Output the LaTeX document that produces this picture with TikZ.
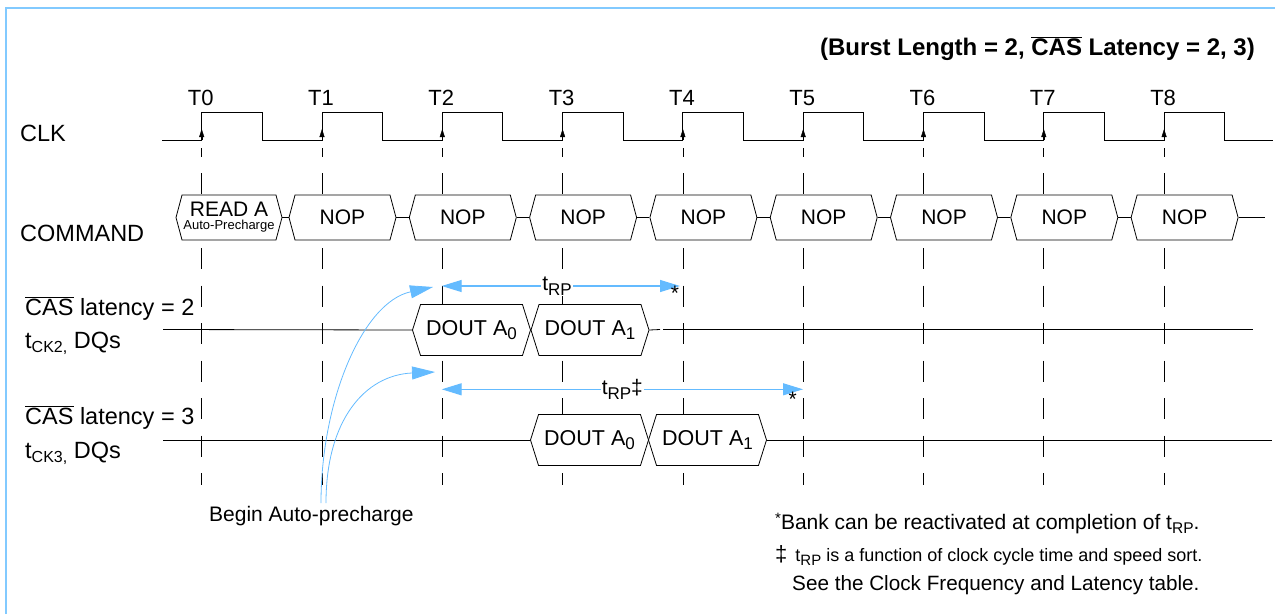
\documentclass[tikz,border=0pt]{standalone}
\usepackage{fontspec}
\setmainfont{Liberation Sans}
\usetikzlibrary{arrows.meta,shapes.symbols}
\definecolor{frameblue}{RGB}{130,202,255}
\definecolor{rpblue}{RGB}{100,187,255}
\newcommand\fsz[1]{\fontsize{#1}{#1}\selectfont}
\newcommand\cas{$\overline{\mbox{CAS}}$}
\newcommand\lowtext[2]{\raisebox{-4.5pt}{\fsz{#1}#2}}

\begin{document}
\begin{tikzpicture}[x=1pt,y=-1pt,
    lbl/.style={anchor=base west,inner sep=0,font=\fsz{23.5}},
    cmd/.style={shape=signal,signal to=east and west,signal pointer angle=150,
      draw,fill=white,line width=0.8pt,minimum width=107pt,minimum height=45pt,
      inner sep=0,font=\fsz{21}},
    dout/.style={cmd,signal pointer angle=145,minimum width=118pt,minimum height=51pt,font=\fsz{21.5}},
    tick/.style={line width=0.8pt,dash pattern=on 21pt off 16.5pt,dash phase=12.5pt},
    wire/.style={line width=0.8pt},
    rp/.style={rpblue,line width=1.2pt,{Triangle[length=20pt,width=12pt]}-{Triangle[length=20pt,width=12pt]}},
    rplbl/.style={fill=white,text=black,inner sep=1pt,font=\fsz{21}},
    apcurve/.style={rpblue,line width=0.8pt,-{Triangle[length=23pt,width=13pt]}},
    note/.style={anchor=base west,inner sep=0,font=\fsz{21}}]
    \useasboundingbox (0,0) rectangle (1275,614);
    \draw[frameblue,line width=2pt] (6,614) -- (6,8) -- (1275,8);
    % title
    \node[anchor=base east,inner sep=0,font=\fsz{24}\bfseries] (ttl) at (1255,55)
      {(Burst Length = 2, \cas{} Latency = 2, 3)};
    % row names
    \node[lbl] (clk) at (20,141) {CLK};
    \node[lbl] (cmdl) at (20,241) {COMMAND};
    \node[lbl] (cl2) at (25,315) {\cas{} latency = 2};
    \node[lbl] (ck2) at (25,348) {t\lowtext{16}{CK2,} DQs};
    \node[lbl] (cl3) at (25,424) {\cas{} latency = 3};
    \node[lbl] (ck3) at (25,458) {t\lowtext{16}{CK3,} DQs};
    % clock
    \draw[line width=1pt] (162,140.3) \foreach \i in {0,...,8}{
      -- ({201.7+120.3*\i},140.3) -- ++(0,-28) -- ++(60.6,0) -- ++(0,28)} -- (1273,140.3);
    \foreach \i in {0,...,8}{
      \pgfmathsetmacro\x{201.7+120.3*\i}
      \node[anchor=base,inner sep=0,font=\fsz{22}] (t\i) at ({\x-1},105) {T\i};
      \coordinate (u\i) at (\x,148);
      \coordinate (d\i) at (\x,485);
      \draw[tick] (u\i) -- (d\i);
      \draw[-{Triangle[length=8pt,width=5pt]}] (\x,140.3) -- (\x,129);
    }
    % data lines
    \coordinate (l2s) at (163,329.5);
    \coordinate (l2g) at (660,329.5);
    \coordinate (l2h) at (663,329.5);
    \coordinate (l2e) at (1253,329.5);
    \coordinate (l3s) at (163,440);
    \coordinate (l3e) at (1272,440);
    \coordinate (cend) at (1265,217.5);
    % commands
    \node[cmd,minimum width=106pt,align=center] (c0) at (229,217.5)
      {READ A\\[-8pt]{\fsz{13}Auto-Precharge}};
    \foreach \i in {1,...,8}
      \node[cmd] (c\i) at ({222.2+120.3*\i},217.5) {NOP};
    \foreach \i [count=\j] in {0,...,7}
      \draw[wire] (c\i.east) -- (c\j.west);
    \draw[wire] (c8.east) -- (cend);
    % data out
    \node[dout] (a20) at (471.5,330) {DOUT A\lowtext{17}{0}};
    \node[dout] (a21) at (590,330) {DOUT A\lowtext{17}{1}};
    \node[dout] (a30) at (589.5,440) {DOUT A\lowtext{17}{0}};
    \node[dout] (a31) at (707.5,440) {DOUT A\lowtext{17}{1}};
    \draw[wire] (l2s) -- (a20.west);
    \draw[wire] (a21.east) -- (l2g);
    \draw[wire] (l2h) -- (l2e);
    \draw[wire] (l3s) -- (a30.west);
    \draw[wire] (a31.east) -- (l3e);
    % tRP
    \coordinate (rp2s) at (441.7,286);
    \coordinate (rp2e) at (680,286);
    \coordinate (rp3s) at (441.7,389.3);
    \coordinate (rp3e) at (803,389.3);
    \draw[rp] (rp2s) -- node[pos=0.484,rplbl] (rp2) {t\lowtext{17}{RP}} (rp2e);
    \draw[rp] (rp3s) -- node[rplbl] (rp3) {t\lowtext{17}{RP}‡} (rp3e);
    \node[inner sep=0,font=\fsz{21}] (st2) at (675,293) {*};
    \node[inner sep=0,font=\fsz{21}] (st3) at (792.7,399) {*};
    % auto precharge
    \node[note] (bap) at (209,521) {Begin Auto-precharge};
    \coordinate (ap1) at (321,503);
    \coordinate (ap2) at (326,503);
    \coordinate (ap1e) at (433,287);
    \coordinate (ap2e) at (435,372);
    \draw[apcurve] (ap1) .. controls (321,400) and (363,302) .. (ap1e);
    \draw[apcurve] (ap2) .. controls (326,420) and (365,375) .. (ap2e);
    % notes
    \node[note] (n1) at (775,529) {\raisebox{6pt}{\fsz{15}*}Bank can be reactivated at completion of t\lowtext{15.5}{RP}.};
    \node[note,font=\fsz{18}] (n2) at (775,561) {{\fsz{22}‡}\hspace{8pt}t\lowtext{15}{RP} is a function of clock cycle time and speed sort.};
    \node[note,font=\fsz{20.7}] (n3) at (792,590.5) {See the Clock Frequency and Latency table.};
\end{tikzpicture}
\end{document}
